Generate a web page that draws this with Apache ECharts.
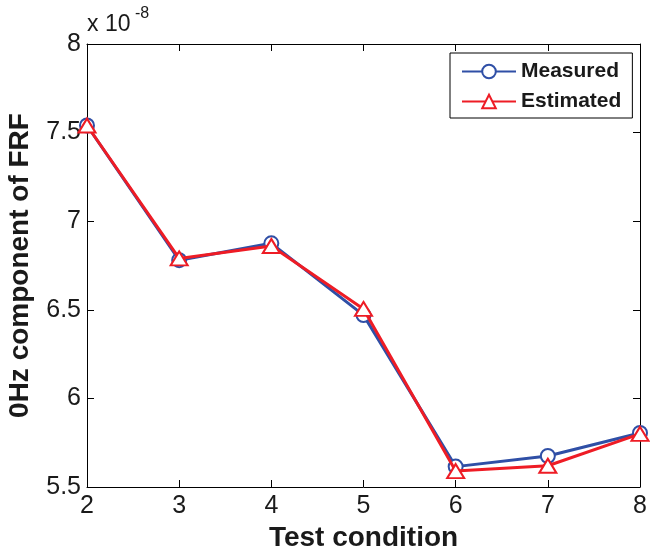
<!DOCTYPE html>
<html>
<head>
<meta charset="utf-8">
<script src="https://cdn.jsdelivr.net/npm/echarts@6/dist/echarts.min.js"></script>
<style>
  html, body { margin: 0; padding: 0; background: #fff; }
  #chart { width: 650px; height: 552px; }
</style>
</head>
<body>
<div id="chart"></div>
<script>
// Test conditions and the 0 Hz FRF component (in units of 1e-8)
var conditions = [2, 3, 4, 5, 6, 7, 8];
var measured  = [7.54, 6.78, 6.875, 6.47, 5.615, 5.675, 5.805];
var estimated = [7.54, 6.79, 6.86, 6.505, 5.59, 5.62, 5.80];
var yTicks = [5.5, 6, 6.5, 7, 7.5, 8];

var BLUE = '#2f4fa6';
var RED = '#ee1c25';
var TXT = '#1a1a1a';
var FONT = 'Liberation Sans, Arial, sans-serif';

function pairs(xs, ys) {
  return xs.map(function (x, i) { return [x, ys[i]]; });
}

var chart = echarts.init(document.getElementById('chart'), null, { renderer: 'canvas' });

var boxAxisX = {
  type: 'value', min: conditions[0], max: conditions[conditions.length - 1], interval: 1,
  axisLine: { show: true, onZero: false, lineStyle: { color: '#000', width: 1 } },
  axisTick: { show: true, inside: true, length: 7, lineStyle: { color: '#000' } },
  splitLine: { show: false }
};
var boxAxisY = {
  type: 'value', min: yTicks[0], max: yTicks[yTicks.length - 1], interval: 0.5,
  axisLine: { show: true, onZero: false, lineStyle: { color: '#000', width: 1 } },
  axisTick: { show: true, inside: true, length: 7, lineStyle: { color: '#000' } },
  splitLine: { show: false }
};

chart.setOption({
  animation: false,
  backgroundColor: '#fff',
  grid: { left: 87, top: 44, right: 10, bottom: 65, containLabel: false, outerBoundsMode: 'none' },
  xAxis: [
    Object.assign({}, boxAxisX, {
      position: 'bottom',
      name: 'Test condition',
      nameLocation: 'middle',
      nameGap: 32,
      nameTextStyle: { fontFamily: FONT, fontSize: 28, fontWeight: 'bold', color: TXT },
      axisLabel: { show: true, margin: 7, fontFamily: FONT, fontSize: 25, color: TXT }
    }),
    Object.assign({}, boxAxisX, { position: 'top', axisLabel: { show: false } })
  ],
  yAxis: [
    Object.assign({}, boxAxisY, {
      position: 'left',
      name: '0Hz component of FRF',
      nameLocation: 'middle',
      nameGap: 53,
      nameTextStyle: { fontFamily: FONT, fontSize: 28, fontWeight: 'bold', color: TXT },
      axisLabel: { show: true, margin: 6, fontFamily: FONT, fontSize: 25, color: TXT }
    }),
    Object.assign({}, boxAxisY, { position: 'right', axisLabel: { show: false } })
  ],
  legend: {
    show: true,
    orient: 'vertical',
    left: 450,
    top: 53,
    padding: [8, 11, 6, 11],
    itemGap: 9,
    itemWidth: 54,
    itemHeight: 17,
    borderColor: '#000',
    borderWidth: 1,
    backgroundColor: '#fff',
    textStyle: { fontFamily: FONT, fontSize: 21, fontWeight: 'bold', color: TXT },
    data: ['Measured', 'Estimated']
  },
  graphic: [
    {
      type: 'text', left: 87, top: 13,
      style: { text: 'x 10', font: '23px ' + FONT, fill: TXT }
    },
    {
      type: 'text', left: 135, top: 6,
      style: { text: '-8', font: '16px ' + FONT, fill: TXT }
    }
  ],
  series: [
    {
      name: 'Measured',
      type: 'line',
      data: pairs(conditions, measured),
      symbol: 'emptyCircle',
      symbolSize: 14,
      color: BLUE,
      lineStyle: { color: BLUE, width: 3 },
      itemStyle: { color: BLUE, borderColor: BLUE, borderWidth: 2.5 },
      z: 2
    },
    {
      name: 'Estimated',
      type: 'line',
      data: pairs(conditions, estimated),
      symbol: 'emptyTriangle',
      symbolSize: [17, 14],
      color: RED,
      lineStyle: { color: RED, width: 3 },
      itemStyle: { color: RED, borderColor: RED, borderWidth: 2.5 },
      z: 3
    }
  ]
});
</script>
</body>
</html>
